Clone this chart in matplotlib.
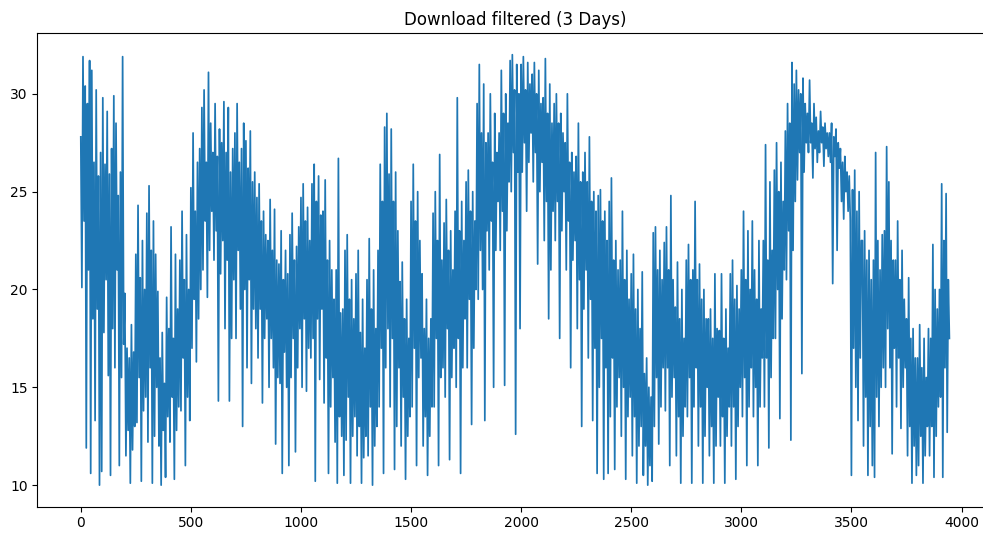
import numpy as np
import matplotlib.pyplot as plt

# Download speed samples, one value kept every STEP readings
STEP = 5
download = [
    27.8, 20.1, 31.9, 23.5, 30.4, 11.9, 29.5, 21.0, 31.7, 10.6,
    31.2, 18.5, 26.5, 13.3, 30.2, 19.0, 25.8, 10.0, 27.0, 10.7,
    29.8, 17.8, 26.4, 20.5, 29.1, 15.6, 25.9, 10.5, 27.2, 18.0,
    29.9, 16.0, 28.5, 21.0, 24.8, 11.0, 26.0, 15.5, 31.9, 17.2,
    19.8, 11.5, 17.0, 12.8, 16.5, 10.1, 18.2, 11.8, 16.8, 13.0,
    21.8, 13.2, 24.3, 15.5, 20.6, 10.2, 22.5, 13.8, 20.0, 14.5,
    23.9, 12.2, 25.3, 16.0, 22.0, 10.1, 23.5, 12.5, 21.8, 15.0,
    19.9, 12.0, 16.5, 10.0, 17.8, 12.8, 15.2, 10.4, 19.6, 13.5,
    18.0, 12.2, 23.2, 14.5, 17.5, 10.3, 21.8, 12.8, 19.0, 14.0,
    21.5, 13.8, 24.0, 16.5, 20.5, 11.0, 22.8, 14.5, 20.0, 13.3,
    25.2, 17.0, 28.0, 19.5, 24.0, 16.3, 26.5, 18.5, 27.2, 20.0,
    29.3, 21.0, 30.2, 23.5, 26.5, 19.6, 31.1, 22.0, 28.5, 24.0,
    27.0, 21.5, 29.5, 23.0, 26.8, 14.3, 28.2, 20.8, 27.5, 22.5,
    29.6, 18.0, 27.0, 21.5, 29.3, 14.3, 26.0, 17.5, 27.2, 20.5,
    28.0, 17.5, 29.5, 22.0, 26.5, 19.0, 27.2, 13.0, 28.5, 20.0,
    27.6, 16.0, 26.2, 20.5, 28.1, 15.2, 25.5, 19.0, 26.0, 18.0,
    24.7, 16.5, 25.4, 19.0, 23.5, 14.2, 24.0, 17.5, 22.8, 18.5,
    22.5, 15.0, 24.6, 17.5, 22.0, 16.0, 24.1, 12.1, 21.5, 15.5,
    21.3, 15.2, 23.0, 10.6, 20.5, 16.8, 22.0, 15.0, 20.8, 11.0,
    22.8, 15.5, 23.9, 17.5, 21.5, 11.7, 22.2, 16.0, 23.2, 18.0,
    24.7, 15.0, 25.4, 18.5, 23.5, 14.8, 24.2, 17.0, 22.5, 16.5,
    25.4, 17.5, 26.4, 10.2, 24.5, 18.5, 25.8, 15.4, 23.8, 19.0,
    24.0, 14.2, 25.6, 16.5, 21.5, 10.6, 22.5, 14.0, 21.0, 15.5,
    19.5, 12.2, 21.0, 10.1, 26.7, 13.5, 18.8, 12.5, 19.0, 10.5,
    22.0, 12.3, 22.8, 14.5, 19.5, 10.1, 20.5, 12.5, 18.5, 13.5,
    20.8, 11.5, 22.0, 13.0, 17.8, 10.1, 19.5, 11.4, 17.0, 12.5,
    20.5, 11.5, 22.6, 14.0, 19.0, 10.0, 21.0, 12.0, 18.0, 13.0,
    22.0, 14.0, 26.4, 17.0, 24.5, 10.6, 28.3, 16.0, 29.0, 18.0,
    25.9, 14.0, 28.2, 17.5, 24.5, 10.8, 26.0, 13.0, 23.0, 16.0,
    20.4, 12.0, 21.4, 14.5, 18.5, 10.3, 19.5, 12.5, 17.5, 13.5,
    24.5, 14.0, 26.4, 17.0, 23.5, 11.0, 25.0, 15.5, 22.5, 16.5,
    20.8, 12.0, 18.0, 13.5, 19.5, 10.5, 17.5, 12.5, 18.5, 14.0,
    23.9, 14.0, 25.0, 17.5, 22.5, 11.0, 26.9, 15.5, 21.5, 16.0,
    23.4, 14.5, 24.6, 18.0, 22.0, 11.3, 23.0, 15.5, 21.0, 17.0,
    24.0, 15.0, 29.8, 17.5, 23.0, 10.6, 24.5, 16.0, 22.5, 18.5,
    25.5, 16.0, 26.1, 19.5, 24.0, 13.1, 25.0, 17.0, 23.5, 20.0,
    29.5, 19.5, 31.5, 22.0, 28.0, 20.0, 30.5, 13.3, 27.5, 23.0,
    28.0, 21.0, 30.0, 23.5, 26.5, 15.0, 29.0, 22.0, 27.0, 24.5,
    28.0, 22.0, 31.2, 24.0, 29.0, 15.1, 30.0, 23.0, 28.5, 25.5,
    31.7, 25.0, 32.0, 27.0, 30.2, 12.6, 31.5, 26.0, 30.0, 18.0,
    31.5, 26.0, 31.9, 27.5, 30.2, 24.0, 31.6, 26.5, 30.5, 28.0,
    31.0, 25.5, 31.6, 27.0, 30.0, 21.3, 31.2, 25.0, 29.5, 26.5,
    29.8, 22.5, 31.8, 24.5, 29.0, 18.5, 30.5, 21.0, 28.5, 24.0,
    29.5, 22.5, 30.0, 24.5, 28.5, 17.5, 29.0, 23.0, 28.0, 25.0,
    27.5, 21.0, 30.0, 23.5, 26.5, 16.0, 27.0, 21.5, 26.0, 22.5,
    26.8, 18.0, 28.5, 20.5, 25.5, 13.0, 26.0, 19.0, 27.0, 21.0,
    25.5, 16.5, 27.8, 19.5, 24.5, 13.3, 25.0, 17.0, 24.0, 10.6,
    24.8, 15.0, 25.1, 17.5, 23.5, 10.3, 24.0, 16.0, 22.5, 10.6,
    24.5, 13.5, 25.7, 16.5, 21.5, 10.8, 22.5, 14.0, 21.0, 15.5,
    21.5, 12.5, 24.0, 15.0, 20.5, 10.3, 22.0, 13.5, 19.5, 14.5,
    20.8, 11.5, 21.8, 13.5, 19.0, 10.1, 20.0, 12.0, 18.0, 13.0,
    20.9, 10.5, 15.7, 12.0, 16.5, 10.0, 15.0, 11.0, 14.5, 10.2,
    22.9, 13.0, 23.2, 15.5, 21.0, 12.1, 22.0, 14.0, 20.5, 16.0,
    22.4, 13.8, 23.2, 16.0, 21.0, 11.0, 24.8, 14.5, 20.5, 15.5,
    19.1, 11.5, 21.4, 13.5, 18.5, 10.1, 20.0, 12.5, 17.5, 14.0,
    21.5, 13.5, 22.3, 15.5, 20.5, 10.1, 21.0, 14.0, 24.5, 16.0,
    20.5, 12.0, 21.3, 14.0, 19.5, 10.1, 20.0, 12.5, 18.5, 15.0,
    18.5, 11.5, 19.0, 13.0, 17.5, 10.1, 20.8, 12.0, 18.0, 14.5,
    17.9, 12.0, 20.8, 13.5, 17.5, 10.1, 19.0, 12.5, 17.0, 14.0,
    20.8, 12.0, 21.5, 14.0, 19.5, 10.3, 20.2, 13.0, 19.0, 15.0,
    21.0, 13.5, 24.0, 15.5, 20.5, 11.0, 23.0, 14.0, 20.0, 16.0,
    23.5, 13.5, 21.0, 15.0, 19.5, 11.0, 22.5, 14.0, 19.0, 16.5,
    22.5, 14.0, 27.4, 16.5, 21.5, 11.9, 25.5, 15.5, 22.0, 17.5,
    26.1, 17.5, 27.5, 20.0, 25.0, 13.4, 26.5, 18.5, 24.5, 21.0,
    28.1, 20.5, 29.5, 23.0, 28.5, 12.3, 31.6, 22.0, 30.5, 24.5,
    31.2, 25.6, 30.2, 27.0, 30.0, 15.7, 30.8, 26.0, 29.5, 27.5,
    29.0, 27.0, 30.7, 27.5, 28.5, 25.7, 29.5, 27.2, 28.8, 26.5,
    28.1, 27.0, 29.1, 27.5, 28.3, 26.3, 28.5, 27.2, 28.0, 26.8,
    28.0, 26.5, 28.5, 20.3, 27.8, 26.8, 28.2, 22.0, 27.5, 26.2,
    27.2, 24.5, 26.5, 23.6, 26.8, 25.0, 26.0, 24.0, 25.8, 23.5,
    10.5, 25.1, 17.0, 26.1, 15.0, 24.0, 13.3, 25.0, 16.5, 22.5,
    22.5, 12.0, 23.0, 14.5, 21.5, 10.5, 22.0, 13.0, 20.5, 11.0,
    21.5, 10.4, 27.0, 14.5, 22.5, 13.0, 21.0, 15.0, 22.8, 16.0,
    23.0, 15.0, 27.3, 18.0, 25.5, 16.0, 22.5, 11.6, 21.5, 17.0,
    21.5, 14.0, 23.5, 16.5, 20.5, 12.9, 22.0, 15.0, 19.5, 16.0,
    18.5, 11.5, 20.6, 13.0, 17.5, 10.1, 18.0, 12.0, 16.5, 10.5,
    16.5, 11.0, 18.2, 12.5, 16.0, 10.1, 17.5, 11.5, 15.5, 13.0,
    18.0, 11.5, 17.5, 13.0, 22.3, 10.4, 20.0, 12.5, 19.0, 14.0,
    20.0, 14.5, 25.4, 10.4, 22.5, 16.0, 24.9, 12.7, 20.5, 17.5,
]

sample = np.arange(len(download)) * STEP

fig = plt.figure(figsize=(9.83, 5.35), dpi=100)
# axes run slightly past the right edge of the canvas
ax = fig.add_axes([0.038, 0.053, 0.972, 0.885])

ax.plot(sample, download, color='#1f77b4', linewidth=1.25)
ax.set_title('Download filtered (3 Days)')

plt.savefig('out.png', dpi=100)
plt.close(fig)
